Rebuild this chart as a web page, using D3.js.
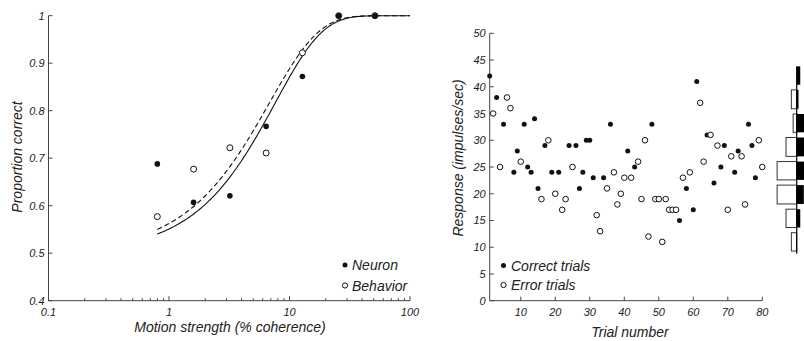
<!DOCTYPE html>
<html><head><meta charset="utf-8">
<script src="https://cdn.jsdelivr.net/npm/d3@7/dist/d3.min.js"></script>
<style>
body{margin:0;background:#fff;}
svg{display:block;font-family:"Liberation Sans",Arial,sans-serif;font-style:italic;}
</style></head><body>
<svg id="c" width="804" height="341"></svg>
<script>
// ---- Left panel data: psychometric / neurometric
const coherence = [0.8, 1.6, 3.2, 6.4, 12.8, 25.6, 51.2];
const neuronCorrect = [0.688, 0.607, 0.621, 0.767, 0.872, 1.0, 1.0];
const behaviorCorrect = [0.577, 0.677, 0.722, 0.711, 0.922, 1.0, 1.0];
// Weibull fit parameters [alpha, beta]
const neuronFit = [7.6, 1.1];
const behaviorFit = [6.8, 1.05];
const leftYTicks = [0.4, 0.5, 0.6, 0.7, 0.8, 0.9, 1];
const leftXTicks = [0.1, 1, 10, 100];

// ---- Right panel data: responses per trial
const trialResponse = [42,35,38,25,33,38,36,24,28,26,33,25,24,34,21,19,29,30,24,20,24,17,19,29,25,29,21,24,30,30,23,16,13,23,21,33,24,18,20,23,28,23,25,26,19,30,12,33,19,19,11,19,17,17,17,15,23,21,24,17,41,37,26,31,31,22,29,25,29,17,27,24,28,27,18,33,29,23,30,25];
const trialCorrect = [1,0,1,0,1,0,0,1,1,0,1,1,1,1,1,0,1,0,1,0,1,0,0,1,0,1,1,1,1,1,1,0,0,1,0,1,0,0,0,0,1,0,1,0,0,0,0,1,0,0,0,0,0,0,0,1,0,1,0,1,1,0,0,1,0,1,0,1,1,0,0,1,1,0,0,1,1,1,0,0];
const rightYTicks = [0,5,10,15,20,25,30,35,40,45,50];
const rightXTicks = [10,20,30,40,50,60,70,80];
const histEdges = [8.8, 13.2, 17.6, 22.1, 26.5, 31.0, 35.4, 39.9, 44.3];

const svg = d3.select("#c");
const axisColor = "#444";

// ================= LEFT PANEL =================
const lx = d3.scaleLog().domain([0.1, 100]).range([48.5, 410]);
const ly = d3.scaleLinear().domain([0.4, 1]).range([300.7, 15.7]);
const L = svg.append("g");

L.append("line").attr("x1", lx(0.1)).attr("x2", lx(0.1)).attr("y1", ly(1)).attr("y2", ly(0.4)).attr("stroke", axisColor);
L.append("line").attr("x1", lx(0.1)).attr("x2", lx(100)).attr("y1", ly(0.4)).attr("y2", ly(0.4)).attr("stroke", axisColor);

leftYTicks.forEach(v => {
  L.append("line").attr("x1", lx(0.1)).attr("x2", lx(0.1) + 4).attr("y1", ly(v)).attr("y2", ly(v)).attr("stroke", axisColor);
  L.append("text").attr("x", lx(0.1) - 4).attr("y", ly(v) + 4).attr("text-anchor", "end")
    .attr("font-size", 11).attr("fill", "#222").text(d3.format("~g")(v));
});
const minor = [];
[0.1, 1, 10].forEach(d => { for (let k = 2; k <= 9; k++) minor.push(d * k); });
minor.forEach(v => {
  L.append("line").attr("x1", lx(v)).attr("x2", lx(v)).attr("y1", ly(0.4)).attr("y2", ly(0.4) - 2.5).attr("stroke", axisColor);
});
leftXTicks.forEach(v => {
  L.append("line").attr("x1", lx(v)).attr("x2", lx(v)).attr("y1", ly(0.4)).attr("y2", ly(0.4) - 4.5).attr("stroke", axisColor);
  L.append("text").attr("x", lx(v)).attr("y", 316).attr("text-anchor", "middle")
    .attr("font-size", 11).attr("fill", "#222").text(v);
});

L.append("text").attr("x", 230).attr("y", 332).attr("text-anchor", "middle").attr("font-size", 14).attr("fill", "#222")
  .text("Motion strength (% coherence)");
L.append("text").attr("transform", "translate(22,157) rotate(-90)").attr("text-anchor", "middle").attr("font-size", 14).attr("fill", "#222")
  .text("Proportion correct");

const weib = (p) => (c) => 1 - 0.5 * Math.exp(-Math.pow(c / p[0], p[1]));
const cs = d3.range(0, 201).map(i => Math.pow(10, Math.log10(0.8) + i * (2 - Math.log10(0.8)) / 200));
const line = d3.line().x(d => lx(d[0])).y(d => ly(d[1]));
L.append("path").attr("d", line(cs.map(c => [c, weib(behaviorFit)(c)]))).attr("fill", "none")
  .attr("stroke", "#111").attr("stroke-width", 1.1).attr("stroke-dasharray", "5,3");
L.append("path").attr("d", line(cs.map(c => [c, weib(neuronFit)(c)]))).attr("fill", "none")
  .attr("stroke", "#111").attr("stroke-width", 1.1);

L.selectAll(".bh").data(coherence).enter().append("circle")
  .attr("cx", d => lx(d)).attr("cy", (d, i) => ly(behaviorCorrect[i])).attr("r", 3)
  .attr("fill", "#fff").attr("stroke", "#111").attr("stroke-width", 1);
L.selectAll(".nr").data(coherence).enter().append("circle")
  .attr("cx", d => lx(d)).attr("cy", (d, i) => ly(neuronCorrect[i])).attr("r", 2.8)
  .attr("fill", "#111");

L.append("circle").attr("cx", 345).attr("cy", 265).attr("r", 2.5).attr("fill", "#111");
L.append("text").attr("x", 352).attr("y", 270).attr("font-size", 14).attr("fill", "#222").text("Neuron");
L.append("circle").attr("cx", 345).attr("cy", 285.5).attr("r", 2.6).attr("fill", "#fff").attr("stroke", "#111");
L.append("text").attr("x", 352).attr("y", 290.5).attr("font-size", 14).attr("fill", "#222").text("Behavior");

// ================= RIGHT PANEL =================
const rx = d3.scaleLinear().domain([1, 80]).range([489.7, 762.3]);
const ry = d3.scaleLinear().domain([0, 50]).range([300.7, 33.3]);
const R = svg.append("g");

R.append("line").attr("x1", rx(1)).attr("x2", rx(1)).attr("y1", ry(50)).attr("y2", ry(0)).attr("stroke", axisColor);
R.append("line").attr("x1", rx(1)).attr("x2", rx(80)).attr("y1", ry(0)).attr("y2", ry(0)).attr("stroke", axisColor);
rightYTicks.forEach(v => {
  R.append("line").attr("x1", rx(1)).attr("x2", rx(1) + 4).attr("y1", ry(v)).attr("y2", ry(v)).attr("stroke", axisColor);
  R.append("text").attr("x", rx(1) - 4).attr("y", ry(v) + 4).attr("text-anchor", "end")
    .attr("font-size", 11).attr("fill", "#222").text(v);
});
rightXTicks.forEach(v => {
  R.append("line").attr("x1", rx(v)).attr("x2", rx(v)).attr("y1", ry(0)).attr("y2", ry(0) - 4).attr("stroke", axisColor);
  R.append("text").attr("x", rx(v)).attr("y", 316).attr("text-anchor", "middle")
    .attr("font-size", 11).attr("fill", "#222").text(v);
});
R.append("text").attr("x", 630).attr("y", 337).attr("text-anchor", "middle").attr("font-size", 14).attr("fill", "#222")
  .text("Trial number");
R.append("text").attr("transform", "translate(463,158) rotate(-90)").attr("text-anchor", "middle").attr("font-size", 14).attr("fill", "#222")
  .text("Response (impulses/sec)");

const trials = trialResponse.map((v, i) => ({ t: i + 1, v, c: trialCorrect[i] }));
R.selectAll(".tp").data(trials).enter().append("circle")
  .attr("cx", d => rx(d.t)).attr("cy", d => ry(d.v))
  .attr("r", d => d.c ? 2.5 : 2.8)
  .attr("fill", d => d.c ? "#111" : "#fff")
  .attr("stroke", d => d.c ? "none" : "#111").attr("stroke-width", 1);

R.append("circle").attr("cx", 503.5).attr("cy", 265.5).attr("r", 2.5).attr("fill", "#111");
R.append("text").attr("x", 511).attr("y", 270.5).attr("font-size", 14).attr("fill", "#222").text("Correct trials");
R.append("circle").attr("cx", 503.5).attr("cy", 285).attr("r", 2.6).attr("fill", "#fff").attr("stroke", "#111");
R.append("text").attr("x", 511).attr("y", 290).attr("font-size", 14).attr("fill", "#222").text("Error trials");

const bin = d3.bin().domain([histEdges[0], histEdges[histEdges.length - 1]]).thresholds(histEdges.slice(1, -1));
const errBins = bin(trials.filter(d => !d.c).map(d => d.v));
const corBins = bin(trials.filter(d => d.c).map(d => d.v));
const hx0 = 796.7;
const hw = d3.scaleLinear().domain([0, 1]).range([0, 1.78]);
const pad = 2.6;
errBins.forEach(b => {
  if (!b.length) return;
  R.append("rect").attr("x", hx0 - hw(b.length)).attr("y", ry(b.x1) + pad)
    .attr("width", hw(b.length)).attr("height", ry(b.x0) - ry(b.x1) - 2 * pad)
    .attr("fill", "#fff").attr("stroke", "#333").attr("stroke-width", 1);
});
corBins.forEach(b => {
  if (!b.length) return;
  R.append("rect").attr("x", hx0).attr("y", ry(b.x1) + pad)
    .attr("width", hw(b.length)).attr("height", ry(b.x0) - ry(b.x1) - 2 * pad)
    .attr("fill", "#000");
});
R.append("line").attr("x1", hx0).attr("x2", hx0)
  .attr("y1", ry(histEdges[histEdges.length - 1]) + pad).attr("y2", ry(histEdges[0]))
  .attr("stroke", "#000").attr("stroke-width", 1.2);
</script>
</body></html>
